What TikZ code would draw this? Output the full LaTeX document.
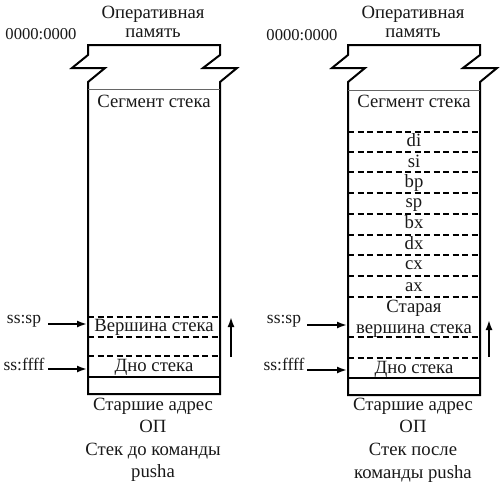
\documentclass[tikz,border=0pt]{standalone}
\usepackage{fontspec}
\setmainfont{Liberation Serif}
\usetikzlibrary{arrows.meta}
\begin{document}
\begin{tikzpicture}[x=1pt,y=-1pt,
 txt/.style={font=\fontsize{18.7}{21}\selectfont, inner sep=0pt, anchor=base, text=black!90},
 ltxt/.style={txt, font=\fontsize{17.5}{20}\selectfont},
 atxt/.style={txt, font=\fontsize{16.6}{20}\selectfont},
 stackbox/.style={line width=2pt, line join=miter},
 dsh/.style={line width=1.6pt, dash pattern=on 6pt off 3.5pt},
 segline/.style={line width=1pt, black!60},
 arr/.style={line width=1.8pt, -{Latex[length=10pt,width=7pt]}}]
\useasboundingbox (0,0) rectangle (501,485);

% ---------- left stack ----------
\draw[stackbox] (88,82) -- (105,68) -- (72,68) -- (88,55) -- (88,45) -- (220,45) -- (220,55) -- (203,68) -- (237,68) -- (220,82) -- (220,394) -- (88,394) -- cycle;
\draw[segline] (88,89) -- (220,89);
\draw[dsh] (88,317) -- (220,317);
\draw[dsh] (88,337) -- (220,337);
\draw[dsh] (88,356) -- (220,356);
\draw[stackbox] (88,377) -- (220,377);

\node[txt] (lop1) at (153,18) {Оперативная};
\node[txt] (lop2) at (153,37) {память};
\node[atxt] (laddr) at (41,39) {0000:0000};
\node[txt] (lseg) at (154,107) {Сегмент стека};
\node[txt] (ltop) at (154,331) {Вершина стека};
\node[txt] (lbot) at (154,371) {Дно стека};
\node[txt] (lh1) at (153,410) {Старшие адрес};
\node[txt] (lh2) at (153,432) {ОП};
\node[txt] (lc1) at (153,455) {Стек до команды};
\node[txt] (lc2) at (153,477) {pusha};

\node[ltxt] (lsp) at (24,323) {ss:sp};
\node[ltxt] (lff) at (24,370) {ss:ffff};
\coordinate (lsps) at (48,324);
\coordinate (lspe) at (87,324);
\coordinate (lffs) at (48,369);
\coordinate (lffe) at (87,369);
\draw[arr] (lsps) -- (lspe);
\draw[arr] (lffs) -- (lffe);
\coordinate (lups) at (231,357);
\coordinate (lupe) at (231,317);
\draw[arr] (lups) -- (lupe);

% ---------- right stack ----------
\draw[stackbox] (348,82) -- (365,68) -- (332,68) -- (348,55) -- (348,45) -- (480,45) -- (480,55) -- (463,68) -- (497,68) -- (480,82) -- (480,395) -- (348,395) -- cycle;
\draw[segline] (348,90) -- (480,90);
\foreach \yy in {132,152,172,193,214,235,255,276,297,337,358}
  \draw[dsh] (348,\yy) -- (480,\yy);
\draw[stackbox] (348,378) -- (480,378);

\node[txt] (rop1) at (413,18) {Оперативная};
\node[txt] (rop2) at (413,37) {память};
\node[atxt] (raddr) at (302,40) {0000:0000};
\node[txt] (rseg) at (414,107) {Сегмент стека};
\node[txt] (rdi) at (414,146) {di};
\node[txt] (rsi) at (414,167) {si};
\node[txt] (rbp) at (414,187) {bp};
\node[txt] (rspr) at (414,207) {sp};
\node[txt] (rbx) at (414,228) {bx};
\node[txt] (rdx) at (414,249) {dx};
\node[txt] (rcx) at (414,269) {cx};
\node[txt] (rax) at (414,291) {ax};
\node[txt] (rold1) at (414,312) {Старая};
\node[txt] (rold2) at (414,333) {вершина стека};
\node[txt] (rbot) at (414,373) {Дно стека};
\node[txt] (rh1) at (413,410) {Старшие адрес};
\node[txt] (rh2) at (413,432) {ОП};
\node[txt] (rc1) at (413,455) {Стек после};
\node[txt] (rc2) at (413,478) {команды pusha};

\node[ltxt] (rsp) at (284,323) {ss:sp};
\node[ltxt] (rff) at (284,370) {ss:ffff};
\coordinate (rsps) at (307,325);
\coordinate (rspe) at (347,325);
\coordinate (rffs) at (307,370);
\coordinate (rffe) at (347,370);
\draw[arr] (rsps) -- (rspe);
\draw[arr] (rffs) -- (rffe);
\coordinate (rups) at (489,357);
\coordinate (rupe) at (489,320);
\draw[arr] (rups) -- (rupe);
\end{tikzpicture}
\end{document}
